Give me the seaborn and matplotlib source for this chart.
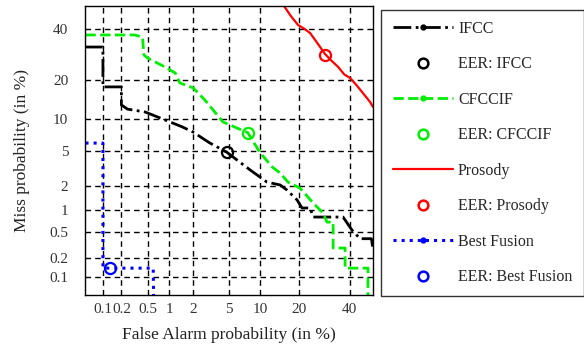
from statistics import NormalDist
import numpy as np
import pandas as pd
import matplotlib
matplotlib.use("Agg")
import matplotlib.pyplot as plt
from matplotlib.lines import Line2D
import seaborn as sns

# DET curves, values in percent (false alarm, miss)
ticks = [0.1, 0.2, 0.5, 1, 2, 5, 10, 20, 40]
tick_labels = ["0.1", "0.2", "0.5", "1", "2", "5", "10", "20", "40"]

ifcc_fa = [0.05, 0.1, 0.1, 0.2, 0.2, 0.25, 0.46, 0.87, 1.46, 2.0, 3.1, 4.8, 8.1,
           11.4, 14.6, 16.5, 19.5, 21.1, 23.9, 25.0, 37.0, 41.0, 44.6, 49.8, 50.5]
ifcc_miss = [32.3, 32.3, 18.0, 18.0, 13.1, 12.1, 11.45, 9.8, 8.5, 7.6, 6.0, 4.8, 3.1,
             2.25, 2.08, 1.8, 1.36, 1.07, 1.07, 0.81, 0.81, 0.53, 0.4, 0.4, 0.27]

cfcc_fa = [0.05, 0.32, 0.42, 0.44, 0.5, 0.87, 1.19, 1.37, 2.0, 2.76, 4.35, 7.7, 9.9,
           12.6, 14.6, 16.75, 20.4, 25.0, 28.7, 30.3, 32.8, 32.8, 37.9, 37.9, 48.2, 48.2]
cfcc_miss = [37.4, 37.4, 36.5, 29.1, 27.9, 24.6, 22.5, 19.2, 17.7, 14.3, 9.4, 7.5, 4.8,
             3.35, 2.86, 2.25, 1.91, 1.24, 0.92, 0.69, 0.69, 0.29, 0.29, 0.14, 0.14, 0.03]

pros_fa = [15.0, 17.5, 19.8, 22.0, 23.9, 26.5, 29.5, 32.0, 34.9, 37.5, 40.1, 43.0, 45.5, 49.2, 50.5]
pros_miss = [52.0, 46.0, 41.8, 40.0, 38.2, 34.0, 29.5, 27.0, 24.6, 22.0, 20.8, 18.5, 16.5, 13.8, 12.6]

fus_fa = [0.05, 0.1, 0.1, 0.6, 0.61]
fus_miss = [5.96, 5.96, 0.14, 0.14, 0.03]

eer_ifcc = (4.8, 4.8)
eer_cfcc = (7.7, 7.5)
eer_pros = (29.5, 29.1)
eer_fus = (0.13, 0.14)

_nd = NormalDist()
_ppf = np.vectorize(_nd.inv_cdf, otypes=[float])
_cdf = np.vectorize(_nd.cdf, otypes=[float])


def probit(p):
    p = np.clip(np.asarray(p, dtype=float) / 100.0, 1e-9, 1 - 1e-9)
    return _ppf(p)


def inv_probit(z):
    return _cdf(np.asarray(z, dtype=float)) * 100.0


sns.set_style("white")
plt.rcParams["font.family"] = ["Liberation Serif", "DejaVu Serif"]

fig = plt.figure(figsize=(5.84, 3.49), dpi=100)
ax = fig.add_axes([85 / 584, 54 / 349, 288 / 584, 289 / 349])
ax.set_xscale("function", functions=(probit, inv_probit))
ax.set_yscale("function", functions=(probit, inv_probit))

curves = [
    ("IFCC", ifcc_fa, ifcc_miss, "black", "-.", 2.0),
    ("CFCCIF", cfcc_fa, cfcc_miss, "#00ee00", "--", 2.0),
    ("Prosody", pros_fa, pros_miss, "red", "-", 1.6),
    ("Best Fusion", fus_fa, fus_miss, "blue", ":", 2.2),
]
eers = [eer_ifcc, eer_cfcc, eer_pros, eer_fus]

for (name, fa, miss, color, ls, lw), eer in zip(curves, eers):
    df = pd.DataFrame({"fa": fa, "miss": miss})
    sns.lineplot(data=df, x="fa", y="miss", sort=False, estimator=None,
                 color=color, linestyle=ls, linewidth=lw, ax=ax)
    ax.plot([eer[0]], [eer[1]], marker="o", ls="none", ms=8, mfc="none",
            mec=color, mew=1.6, zorder=5)

ax.set_xlim(0.049, 50.5)
ax.set_ylim(0.049, 50.4)
ax.set_xticks(ticks)
ax.set_xticklabels(tick_labels)
ax.set_yticks(ticks)
ax.set_yticklabels(tick_labels)
ax.minorticks_off()
ax.grid(True, color="black", linestyle=(0, (4, 3)), linewidth=1.0)
ax.tick_params(axis="both", direction="in", length=3, labelsize=11, colors="#333333")
ax.tick_params(axis="x", pad=6)
ax.tick_params(axis="y", pad=12)
for s in ax.spines.values():
    s.set_color("black")
    s.set_linewidth(1.0)
ax.set_xlabel("False Alarm probability (in %)", fontsize=12.5, labelpad=8, color="#222222")
ax.set_ylabel("Miss probability (in %)", fontsize=12.5, labelpad=14, color="#222222")

handles = []
labels = []
for (name, fa, miss, color, ls, lw) in curves:
    mk = "" if name == "Prosody" else "."
    handles.append(Line2D([], [], color=color, ls=ls, lw=lw, marker=mk, ms=7))
    labels.append(name)
    handles.append(Line2D([], [], ls="none", marker="o", ms=7, mfc="none", mec=color, mew=1.8))
    labels.append("EER: " + name)

leg = fig.legend(handles, labels, loc="center",
                 bbox_to_anchor=(382 / 584, 51 / 349, 201 / 584, 290 / 349),
                 fontsize=11.5, frameon=True, fancybox=False, edgecolor="black",
                 handlelength=3.8, handletextpad=0.3, labelspacing=1.22,
                 borderpad=0.7, numpoints=1)
leg.get_frame().set_linewidth(1.0)

fig.savefig("out.png", dpi=100)
